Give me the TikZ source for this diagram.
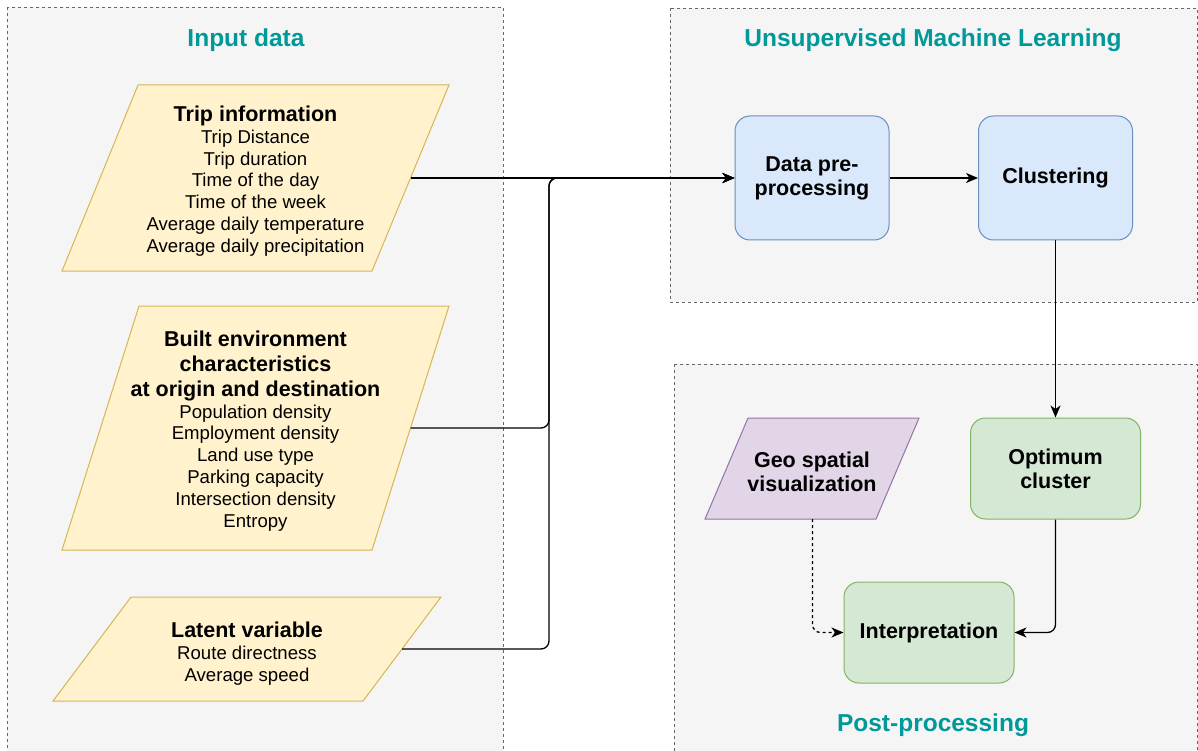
\documentclass[tikz,border=0pt]{standalone}
\usepackage{fontspec}
\setmainfont{Liberation Sans}
\usetikzlibrary{calc, positioning, arrows.meta}

\definecolor{groupfill}{HTML}{F5F5F5}
\definecolor{groupline}{HTML}{666666}
\definecolor{headcol}{HTML}{009999}
\definecolor{yellowfill}{HTML}{FFF2CC}
\definecolor{yellowline}{HTML}{D6B656}
\definecolor{bluefill}{HTML}{DAE8FC}
\definecolor{blueline}{HTML}{6C8EBF}
\definecolor{greenfill}{HTML}{D5E8D4}
\definecolor{greenline}{HTML}{82B366}
\definecolor{purplefill}{HTML}{E1D5E7}
\definecolor{purpleline}{HTML}{9673A6}

\begin{document}
\begin{tikzpicture}
		[x=1pt, y=-1pt,
		 group/.style={draw=groupline, fill=groupfill, dash pattern=on 3pt off 3pt, line width=0.8pt},
		 grouptitle/.style={text=headcol, font=\fontsize{24.5}{29}\selectfont\bfseries},
		 datashape/.style={draw=yellowline, fill=yellowfill, line width=1pt},
		 datatext/.style={align=center, font=\fontsize{18.6}{21.8}\selectfont},
		 boxtext/.style={align=center, font=\fontsize{21.5}{24}\selectfont\bfseries},
		 process/.style={boxtext, draw=blueline, fill=bluefill, rounded corners=15pt, minimum width=154pt, minimum height=124pt, line width=1pt},
		 result/.style={process, draw=greenline, fill=greenfill, minimum width=170pt, minimum height=101pt},
		 flow/.style={-{Stealth[length=12pt, width=10pt, inset=3.5pt]}, line width=1.3pt, rounded corners=8pt}]
	
		\clip (0,0) rectangle (1198,751);
		\path[use as bounding box] (0,0) rectangle (1198,751);
	
		% groups %
		\draw[group] (7,7) rectangle (503,760);
		\draw[group] (670,8) rectangle (1197,302);
		\draw[group] (674,364) rectangle (1197.5,760);
		\node[grouptitle] (inputtitle) at (246,40) {Input data};
		\node[grouptitle] (mltitle) at (933,40) {Unsupervised Machine Learning};
		\node[grouptitle] (posttitle) at (933,725) {Post-processing};
	
		% data shapes %
		\draw[datashape] (138,85) -- (449,85) -- (372,271) -- (62,271) -- cycle;
		\draw[datashape] (139,306) -- (449,306) -- (372,550) -- (62,550) -- cycle;
		\draw[datashape] (131,597) -- (441,597) -- (363,701) -- (53,701) -- cycle;
		\draw[datashape, draw=purpleline, fill=purplefill] (748,418) -- (919,418) -- (876,519) -- (705,519) -- cycle;
	
		% nodes %
		\node[datatext] (trip) at (255.5,181) {{\fontsize{21.5}{25}\selectfont\bfseries Trip information}\\
			Trip Distance\\ Trip duration\\ Time of the day\\ Time of the week\\
			Average daily temperature\\ Average daily precipitation};
		\node[datatext] (built) at (255.5,431) {{\fontsize{21.5}{25}\selectfont\bfseries Built environment}\\[3pt]
			{\fontsize{21.5}{25}\selectfont\bfseries characteristics}\\[3pt]
			{\fontsize{21.5}{25}\selectfont\bfseries at origin and destination}\\
			Population density\\ Employment density\\ Land use type\\
			Parking capacity\\ Intersection density\\ Entropy};
		\node[datatext] (latent) at (247,653.5) {{\fontsize{21.5}{25}\selectfont\bfseries Latent variable}\\
			Route directness\\ Average speed};
		\node[boxtext] (geo) at (812,472) {Geo spatial\\visualization};
	
		\node[process] (pre) at (812,178) {Data pre-\\processing};
		\node[process] (clus) at (1055.5,178) {Clustering};
		\node[result] (opt) at (1055.5,468.5) {Optimum\\cluster};
		\node[result] (interp) at (929,632.5) {Interpretation};
	
		\coordinate (trip-e) at (410.5,178);
		\coordinate (built-e) at (410.5,428);
		\coordinate (latent-e) at (402,649);
		\coordinate (geo-s) at (812.5,519);
		\coordinate (bus) at (549,178);
	
		% edges %
		\draw[flow] (trip-e) -- (pre.west);
		\draw[flow] (built-e) -| (bus) -- (pre.west);
		\draw[flow] (latent-e) -| (bus) -- (pre.west);
		\draw[flow] (pre) -- (clus);
		\draw[flow] (clus) -- (opt);
		\draw[flow] (opt) |- (interp);
		\draw[flow, dash pattern=on 3pt off 3pt] (geo-s) |- (interp);
	
\end{tikzpicture}
\end{document}
